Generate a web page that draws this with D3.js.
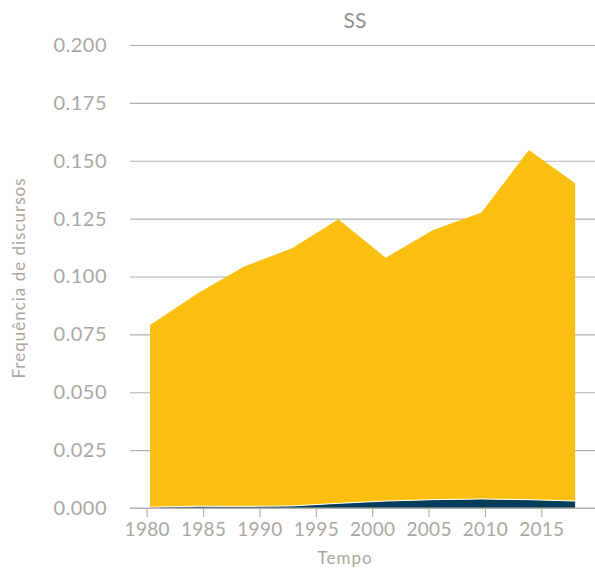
<!DOCTYPE html>
<html>
<head>
<meta charset="utf-8">
<script src="https://cdn.jsdelivr.net/npm/d3@7"></script>
<style>
  body { margin: 0; background: #fff; }
  text { font-family: Lato, "Open Sans", sans-serif; fill: #aaa7a3; }
</style>
</head>
<body>
<div id="chart"></div>
<script>
// Values (decimal years)
const years = [1980.3, 1984.5, 1988.6, 1992.9, 1997.0, 2001.2, 2005.4, 2009.7, 2013.9, 2018.0];
const bottomSeries = [0.0003, 0.0008, 0.0007, 0.0009, 0.0020, 0.0030, 0.0036, 0.0039, 0.0036, 0.0030];
const topSeries = [0.0787, 0.0919, 0.1035, 0.1113, 0.1227, 0.1051, 0.1165, 0.1238, 0.1510, 0.1373];
const xTicks = [1980, 1985, 1990, 1995, 2000, 2005, 2010, 2015];
const yTicks = [0, 0.025, 0.05, 0.075, 0.1, 0.125, 0.15, 0.175, 0.2];
const seriesKeys = ["baixo", "alto"];
const seriesColors = ["#053d57", "#fbbf10"];

const dims = { width: 595, height: 574 };

const table = years.map((yr, i) => ({ year: yr, baixo: bottomSeries[i], alto: topSeries[i] }));
const stacked = d3.stack().keys(seriesKeys)(table);

const x = d3.scaleLinear().domain([1980, 2015]).range([146.7, 541.3]);
const y = d3.scaleLinear().domain([0, 0.2]).range([508, 45]);

const svg = d3.select("#chart")
    .append("svg")
    .attr("width", dims.width)
    .attr("height", dims.height);

// gridlines with tick labels
const yAxis = g => g
    .attr("transform", "translate(130,0)")
    .call(d3.axisLeft(y).tickValues(yTicks).tickFormat(d3.format(".3f")).tickSize(-465).tickPadding(23))
    .call(g => g.select(".domain").remove())
    .call(g => g.selectAll(".tick line").attr("stroke", "#b3b1ad").attr("stroke-width", 1.2))
    .call(g => g.selectAll(".tick text").attr("font-size", 20).attr("fill", "#aaa7a3")
        .attr("font-family", "Lato").style("letter-spacing", "0.5px"));
svg.append("g").call(yAxis);

// areas
const area = d3.area()
    .x(d => x(d.data.year))
    .y0(d => y(d[0]))
    .y1(d => y(d[1]));

svg.append("g")
    .selectAll("path")
    .data(stacked)
    .join("path")
    .attr("fill", (d, i) => seriesColors[i])
    .attr("d", area);

// thin white edge between the two layers
svg.append("path")
    .datum(stacked[0])
    .attr("fill", "none")
    .attr("stroke", "#fff")
    .attr("stroke-width", 1)
    .attr("d", d3.line().x(d => x(d.data.year)).y(d => y(d[1])));

// x axis
const xAxis = g => g
    .attr("transform", `translate(0,${y(0)})`)
    .call(d3.axisBottom(x).tickValues(xTicks).tickFormat(d3.format("d")).tickSize(9).tickPadding(6))
    .call(g => g.select(".domain").remove())
    .call(g => g.selectAll(".tick line").attr("stroke", "#b3b1ad").attr("stroke-width", 1.2))
    .call(g => g.selectAll(".tick text").attr("font-size", 19).attr("fill", "#aaa7a3")
        .attr("font-family", "Lato").style("letter-spacing", "0.3px"));
svg.append("g").call(xAxis);

// baseline
svg.append("line")
    .attr("x1", 130).attr("x2", 595)
    .attr("y1", y(0)).attr("y2", y(0))
    .attr("stroke", "#b3b1ad").attr("stroke-width", 1.2);

// titles
svg.append("text")
    .attr("x", 355).attr("y", 28)
    .attr("text-anchor", "middle")
    .attr("font-size", 21)
    .style("fill", "#939190")
    .text("SS");

svg.append("text")
    .attr("x", 345).attr("y", 564)
    .attr("text-anchor", "middle")
    .attr("font-size", 17)
    .style("letter-spacing", "1px")
    .text("Tempo");

svg.append("text")
    .attr("transform", "translate(25,278) rotate(-90)")
    .attr("text-anchor", "middle")
    .attr("font-size", 17)
    .style("letter-spacing", "1px")
    .text("Frequência de discursos");
</script>
</body>
</html>
